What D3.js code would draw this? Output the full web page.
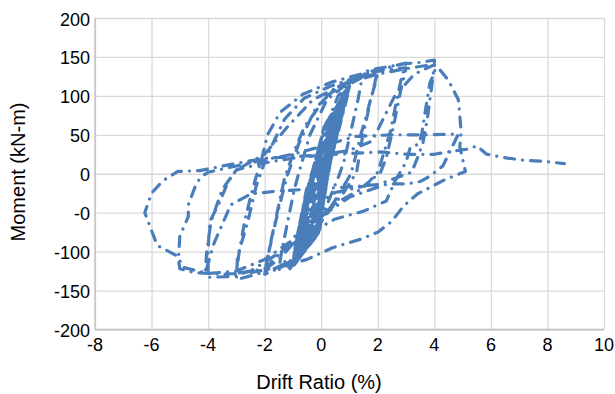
<!DOCTYPE html>
<html>
<head>
<meta charset="utf-8">
<script src="https://cdn.jsdelivr.net/npm/d3@7"></script>
<style>
  body { margin: 0; background: #fff; }
  svg { display: block; }
  text { font-family: "Liberation Sans", Arial, sans-serif; fill: #000; }
</style>
</head>
<body>
<svg id="chart" width="615" height="394"></svg>
<script>
// Axis ticks
const xTicks = [-8, -6, -4, -2, 0, 2, 4, 6, 8, 10];
const xTickLabels = ["-8", "-6", "-4", "-2", "0", "2", "4", "6", "8", "10"];
const yTicks = [200, 150, 100, 50, 0, -50, -100, -150, -200];
const yTickLabels = ["200", "150", "100", "50", "0", "-0", "-100", "-150", "-200"];

// Hysteresis history, [drift ratio %, moment kN-m], in loading order
const elasticCycles = [
  [0, 0], [0.1, 20], [0.04, 8], [-0.06, -8], [-0.14, -20], [-0.08, -8],
  [0.02, 6], [0.22, 38], [0.14, 20], [0.04, 2], [-0.1, -20], [-0.27, -40], [-0.2, -22], [-0.1, -4],
  [0.05, 12], [0.33, 52], [0.22, 30], [0.08, 4], [-0.12, -28], [-0.38, -55], [-0.3, -32], [-0.16, -6],
  [0.06, 20], [0.43, 65], [0.3, 40], [0.1, 6], [-0.12, -36], [-0.5, -70], [-0.42, -44], [-0.22, -8],
  [0.05, 26], [0.53, 78], [0.4, 52], [0.14, 8], [-0.12, -44], [-0.6, -83], [-0.52, -54], [-0.28, -10],
  [0.04, 32], [0.63, 89], [0.48, 62], [0.16, 8], [-0.12, -52], [-0.7, -95], [-0.62, -64], [-0.32, -12],
  [0.04, 40], [0.73, 99], [0.56, 70], [0.2, 10], [-0.14, -60], [-0.8, -106], [-0.72, -74], [-0.38, -14],
  [0.06, 48], [0.84, 107], [0.66, 76], [0.22, 10], [-0.16, -66], [-0.88, -113], [-0.8, -84], [-0.42, -16],
  [0.08, 55], [0.95, 112], [0.74, 82], [0.26, 12], [-0.18, -72], [-0.95, -117], [-0.86, -90], [-0.45, -18],
  [0.1, 60], [1.0, 113], [0.8, 84], [0.28, 12], [-0.2, -76], [-1.0, -118], [-0.9, -92], [-0.48, -20],
  [0.12, 62], [1.0, 112], [0.82, 84], [0.3, 12], [-0.22, -78], [-1.0, -117], [-0.92, -92], [-0.5, -20]
];

// Repeated cycles at the same small drift levels
const repeatCycles = [
  [0.55, 80], [0.42, 52], [0.12, 4], [-0.15, -45], [-0.62, -86], [-0.55, -56], [-0.26, -8],
  [0.6, 86], [0.46, 58], [0.14, 6], [-0.14, -50], [-0.66, -92], [-0.58, -60], [-0.3, -10],
  [0.66, 92], [0.5, 62], [0.16, 6], [-0.1, -54], [-0.72, -98], [-0.64, -66], [-0.34, -12],
  [0.7, 96], [0.54, 66], [0.18, 8], [-0.08, -58], [-0.76, -103], [-0.68, -70], [-0.36, -12],
  [0.76, 101], [0.58, 70], [0.2, 8], [-0.1, -62], [-0.8, -107], [-0.72, -76], [-0.4, -14],
  [0.8, 104], [0.62, 72], [0.22, 10], [-0.06, -66], [-0.84, -110], [-0.76, -80], [-0.42, -16],
  [0.86, 108], [0.68, 78], [0.24, 10], [-0.04, -70], [-0.88, -113], [-0.8, -84], [-0.44, -16],
  [0.9, 110], [0.7, 80], [0.26, 12], [-0.06, -72], [-0.92, -115], [-0.84, -88], [-0.46, -18],
  [0.95, 112], [0.74, 82], [0.28, 12], [-0.08, -74], [-0.95, -117], [-0.88, -90], [-0.48, -18],
  [0.98, 113], [0.76, 84], [0.3, 14], [-0.1, -76], [-0.98, -118], [-0.9, -92], [-0.5, -20],
  [1.0, 113], [0.8, 86], [0.32, 14], [-0.12, -78], [-1.0, -118], [-0.92, -94], [-0.52, -20],
  [0.97, 111], [0.78, 84], [0.3, 12], [-0.14, -78], [-0.98, -116], [-0.9, -92], [-0.5, -20],
  [0.92, 110], [0.72, 80], [0.27, 10], [-0.1, -74], [-0.96, -117], [-0.86, -90], [-0.47, -18],
  [0.99, 112], [0.79, 85], [0.31, 13], [-0.13, -77], [-1.02, -119], [-1.3, -112], [-1.1, -122], [-0.9, -108], [-0.5, -20]
];

const cycles15 = [
  [0.1, 55], [0.6, 100], [1.0, 115], [1.45, 124],
  [1.3, 95], [1.05, 55], [0.8, 15], [0.6, -5], [0.2, -40], [-0.4, -88], [-1.0, -114], [-1.5, -123],
  [-1.4, -100], [-1.15, -55], [-0.95, -20], [-0.8, 0]
];

const cycles2 = [
  [-0.4, 50], [0.2, 95], [1.0, 118], [1.5, 127], [2.0, 133],
  [1.85, 110], [1.6, 75], [1.4, 50], [1.2, 20], [1.05, 0], [0.7, -22], [0.0, -62], [-0.8, -105], [-1.4, -120], [-2.0, -129],
  [-1.85, -100], [-1.6, -60], [-1.4, -30], [-1.2, -2],
  [-0.8, 38], [-0.2, 84], [0.5, 110], [1.3, 124], [2.0, 128],
  [1.75, 95], [1.45, 45], [1.25, 2], [0.8, -24], [-0.2, -70], [-1.0, -110], [-1.6, -121], [-2.0, -126],
  [-1.8, -90], [-1.5, -40], [-1.3, -6]
];

const cycles3 = [
  [-1.0, 25], [-0.6, 60], [0.2, 100], [1.0, 120], [1.8, 132], [2.4, 137], [3.0, 142],
  [2.85, 125], [2.7, 100], [2.45, 55], [2.2, 25], [2.0, 2], [1.5, -18], [0.5, -38], [-0.5, -70], [-1.5, -110], [-2.2, -128], [-3.0, -136],
  [-2.96, -106], [-2.6, -62], [-2.3, -16], [-2.05, 10], [-1.8, 32], [-1.3, 70], [-0.6, 97], [0.3, 112], [1.5, 127], [2.3, 134], [3.0, 136],
  [2.8, 105], [2.55, 60], [2.3, 20], [2.1, 2], [1.5, -16], [0.5, -24], [-0.4, -45], [-1.0, -85], [-2.0, -122], [-3.0, -128],
  [-2.9, -100], [-2.7, -60], [-2.5, -30], [-2.35, -10]
];

const cycles4 = [
  [-2.1, 20], [-1.9, 50], [-1.45, 79], [-1.1, 89], [-0.65, 102], [0.06, 113], [0.4, 118], [1.4, 128], [1.75, 134], [2.3, 137], [2.9, 141], [3.5, 143], [4.0, 146],
  [4.02, 130], [3.85, 118], [3.7, 85], [3.55, 50], [3.45, 38], [3.15, 34], [3.0, 15], [2.6, -10], [2.3, -35], [1.5, -48], [0.5, -58], [-0.5, -78], [-1.5, -102], [-2.5, -125], [-3.2, -132], [-4.0, -133],
  [-4.0, -100], [-3.95, -62], [-3.6, -37], [-3.3, -11], [-3.0, 5],
  [-2.0, 14], [-1.0, 20], [0.0, 24], [1.0, 30], [1.8, 42], [2.6, 100], [3.3, 128], [4.0, 140],
  [3.9, 110], [3.75, 70], [3.6, 40], [3.4, 20], [3.2, 2], [2.0, -14], [0.5, -18], [-0.5, -20], [-1.5, -22], [-2.5, -26], [-3.2, -40], [-3.8, -90], [-4.1, -128],
  [-4.05, -100], [-3.9, -62], [-3.5, -20], [-3.0, 5]
];

const cycles5 = [
  [-2.0, 25], [-1.2, 60], [-0.3, 95], [0.8, 115], [2.0, 128], [3.0, 135], [3.9, 140], [4.1, 138], [4.5, 120], [4.85, 95], [4.95, 54], [4.9, 35], [5.1, 3],
  [4.35, -8], [3.4, -26], [2.9, -42], [2.5, -61], [2.0, -75], [1.4, -84], [0.4, -95], [-0.5, -110], [-1.5, -120], [-2.5, -127], [-3.5, -129], [-4.5, -127], [-5.0, -122],
  [-5.05, -110], [-5.0, -80], [-4.7, -55], [-4.7, -40], [-4.4, -11], [-4.2, -3], [-4.0, 2],
  [-3.0, 10], [-2.0, 18], [-1.0, 25], [0.0, 35], [1.2, 48], [2.5, 50], [3.5, 50], [4.85, 51],
  [4.6, 32], [4.3, 10], [3.85, -3], [3.5, -10], [3.05, -13], [2.35, -13], [1.0, -30], [0.0, -55], [-1.0, -85], [-2.0, -110], [-3.0, -125], [-4.0, -128], [-4.9, -120], [-5.07, -106]
];

const finalCycle = [
  [-5.8, -92], [-6.24, -50], [-6.0, -25], [-5.6, -9], [-5.07, 3], [-4.3, 4], [-3.2, 12], [-2.0, 20], [0.0, 24], [2.1, 28], [3.05, 25], [4.0, 25], [4.45, 28], [5.25, 32], [5.5, 36], [5.85, 25], [6.6, 20], [7.25, 17], [7.85, 16], [8.6, 13]
];

const history = [].concat(elasticCycles, repeatCycles, cycles15, cycles2, cycles3, cycles4, cycles5, finalCycle);

// Layout
const W = 615, H = 394;
const margin = { top: 18, right: 11, bottom: 64.5, left: 95 };
const innerW = W - margin.left - margin.right;
const innerH = H - margin.top - margin.bottom;

const svg = d3.select("#chart");
const g = svg.append("g").attr("transform", `translate(${margin.left},${margin.top})`);

const x = d3.scaleLinear().domain([-8, 10]).range([0, innerW]);
const y = d3.scaleLinear().domain([-200, 200]).range([innerH, 0]);

// Gridlines
g.append("g")
  .attr("class", "grid")
  .call(d3.axisBottom(x).tickValues(xTicks).tickSize(innerH).tickFormat(""))
  .call(s => s.select(".domain").remove())
  .call(s => s.selectAll("line").attr("stroke", "#d9d9d9").attr("stroke-width", 1.3));

g.append("g")
  .attr("class", "grid")
  .call(d3.axisLeft(y).tickValues(yTicks).tickSize(-innerW).tickFormat(""))
  .call(s => s.select(".domain").remove())
  .call(s => s.selectAll("line").attr("stroke", "#d9d9d9").attr("stroke-width", 1.3));

// Axis lines
g.append("line")
  .attr("x1", 0).attr("x2", 0).attr("y1", 0).attr("y2", innerH)
  .attr("stroke", "#bfbfbf").attr("stroke-width", 1.3);
g.append("line")
  .attr("x1", 0).attr("x2", innerW).attr("y1", innerH).attr("y2", innerH)
  .attr("stroke", "#bfbfbf").attr("stroke-width", 1.3);

// Tick labels
g.append("g").selectAll("text")
  .data(xTicks)
  .join("text")
  .attr("x", d => x(d))
  .attr("y", innerH + 21)
  .attr("text-anchor", "middle")
  .attr("font-size", 18)
  .text((d, i) => xTickLabels[i]);

g.append("g").selectAll("text")
  .data(yTicks)
  .join("text")
  .attr("x", -5)
  .attr("y", d => y(d) + 7.5)
  .attr("text-anchor", "end")
  .attr("font-size", 18)
  .text((d, i) => yTickLabels[i]);

// Axis titles
svg.append("text")
  .attr("x", 319)
  .attr("y", 389)
  .attr("text-anchor", "middle")
  .attr("font-size", 20)
  .text("Drift Ratio (%)");

svg.append("text")
  .attr("transform", "translate(25,172) rotate(-90)")
  .attr("text-anchor", "middle")
  .attr("font-size", 20)
  .text("Moment (kN-m)");

// Hysteresis curve
const line = d3.line()
  .x(d => x(d[0]))
  .y(d => y(d[1]));

g.append("path")
  .datum(history)
  .attr("d", line)
  .attr("fill", "none")
  .attr("stroke", "#4a7ebb")
  .attr("stroke-width", 3.2)
  .attr("stroke-linecap", "round")
  .attr("stroke-linejoin", "round")
  .attr("stroke-dasharray", "10,8,0.1,8");
</script>
</body>
</html>
